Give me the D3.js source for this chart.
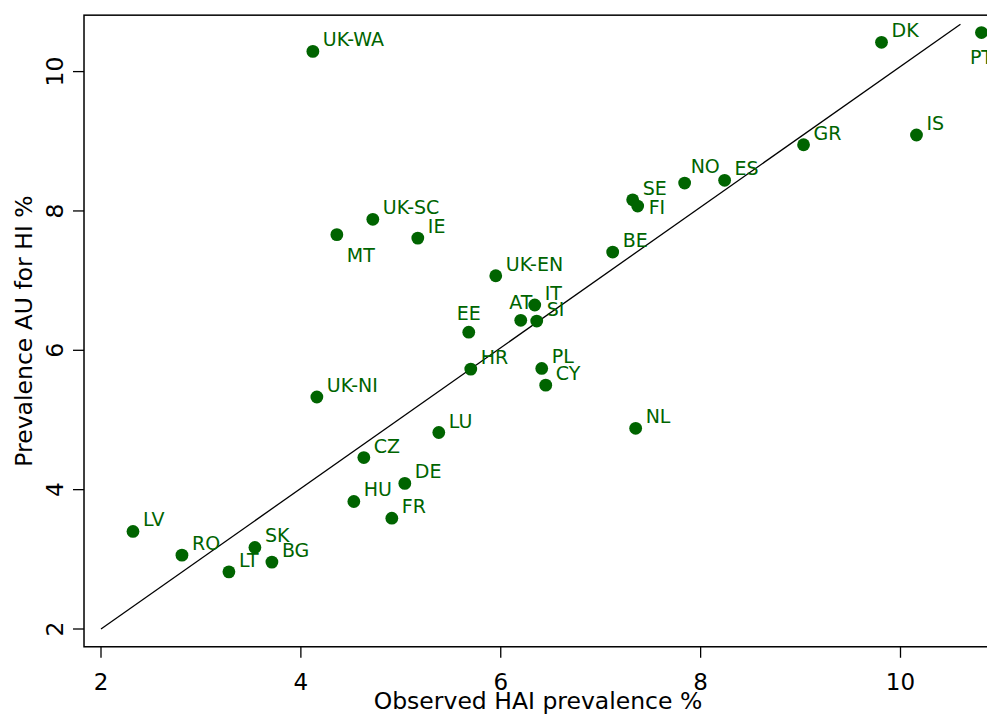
<!DOCTYPE html>
<html>
<head>
<meta charset="utf-8">
<script src="https://cdn.jsdelivr.net/npm/d3@7"></script>
<style>
  html, body { margin: 0; padding: 0; background: #fff; }
  svg { display: block; }
  text { font-family: "DejaVu Sans", Verdana, sans-serif; }
</style>
</head>
<body>
<svg id="chart" width="987" height="715"></svg>
<script>
// ---- data ----
const countries = ["UK-WA","MT","UK-SC","IE","UK-EN","IT","AT","SI","EE","HR","PL","CY","UK-NI","LU","NL","CZ","DE","HU","FR","LV","RO","LT","SK","BG","SE","FI","BE","NO","ES","GR","IS","DK","PT"];
const observed  = [4.12, 4.36, 4.72, 5.17, 5.95, 6.34, 6.20, 6.36, 5.68, 5.70, 6.41, 6.45, 4.16, 5.38, 7.35, 4.63, 5.04, 4.53, 4.91, 2.32, 2.81, 3.28, 3.54, 3.71, 7.32, 7.37, 7.12, 7.84, 8.24, 9.03, 10.16, 9.81, 10.81];
const predicted = [10.29, 7.66, 7.88, 7.61, 7.07, 6.65, 6.43, 6.42, 6.26, 5.73, 5.74, 5.50, 5.33, 4.82, 4.88, 4.46, 4.09, 3.83, 3.59, 3.40, 3.06, 2.82, 3.17, 2.96, 8.16, 8.07, 7.41, 8.40, 8.44, 8.95, 9.09, 10.42, 10.56];
// label clock positions (Stata style)
const labelClock = [2,5,2,2,2,2,12,2,12,2,2,2,2,2,2,2,2,2,2,2,2,2,2,2,2,3,2,1,2,2,2,2,6];
const xTicks = [2, 4, 6, 8, 10];
const yTicks = [2, 4, 6, 8, 10];
const fitX = [2, 10.6];
const fitY = [2, 10.68];
const xTitle = "Observed HAI prevalence %";
const yTitle = "Prevalence AU for HI %";

// ---- layout ----
const svg = d3.select("#chart");
const x = d3.scaleLinear().domain([2, 10]).range([101, 900.5]);
const y = d3.scaleLinear().domain([2, 10]).range([629, 71.6]);
const frame = { x0: 1.83, x1: 11.2, y0: 1.745, y1: 10.81 };
const green = "#006400";

// plot frame
svg.append("rect")
  .attr("x", x(frame.x0)).attr("y", y(frame.y1))
  .attr("width", x(frame.x1) - x(frame.x0))
  .attr("height", y(frame.y0) - y(frame.y1))
  .attr("fill", "none").attr("stroke", "#000").attr("stroke-width", 1.5);

// y axis
const yAxis = svg.append("g").attr("transform", `translate(${x(frame.x0)},0)`);
yAxis.selectAll("line").data(yTicks).join("line")
  .attr("x1", 0).attr("x2", -11)
  .attr("y1", d => y(d)).attr("y2", d => y(d))
  .attr("stroke", "#000").attr("stroke-width", 1.3);
yAxis.selectAll("text").data(yTicks).join("text")
  .attr("transform", d => `translate(-21,${y(d)}) rotate(-90)`)
  .attr("text-anchor", "middle")
  .attr("font-size", 23.5)
  .attr("fill", "#000")
  .text(d => d);

// x axis
const xAxis = svg.append("g").attr("transform", `translate(0,${y(frame.y0)})`);
xAxis.selectAll("line").data(xTicks).join("line")
  .attr("x1", d => x(d)).attr("x2", d => x(d))
  .attr("y1", 0).attr("y2", 11)
  .attr("stroke", "#000").attr("stroke-width", 1.3);
xAxis.selectAll("text").data(xTicks).join("text")
  .attr("x", d => x(d)).attr("y", 43)
  .attr("text-anchor", "middle")
  .attr("font-size", 23)
  .attr("fill", "#000")
  .text(d => d);

// axis titles
svg.append("text")
  .attr("x", 538).attr("y", 709)
  .attr("text-anchor", "middle").attr("font-size", 23.5).attr("fill", "#000")
  .text(xTitle);
svg.append("text")
  .attr("transform", `translate(32,331) rotate(-90)`)
  .attr("text-anchor", "middle").attr("font-size", 23.5).attr("fill", "#000")
  .text(yTitle);

// fit line
svg.append("line")
  .attr("x1", x(fitX[0])).attr("y1", y(fitY[0]))
  .attr("x2", x(fitX[1])).attr("y2", y(fitY[1]))
  .attr("stroke", "#000").attr("stroke-width", 1.3);

// points
const pts = countries.map((c, i) => ({ c, ox: observed[i], py: predicted[i], pos: labelClock[i] }));
svg.append("g").selectAll("circle").data(pts).join("circle")
  .attr("cx", d => x(d.ox)).attr("cy", d => y(d.py))
  .attr("r", 6.4).attr("fill", green);

const off = {
  2:  { dx: 10, dy: -5, anchor: "start" },
  1:  { dx: 6, dy: -10, anchor: "start" },
  3:  { dx: 11, dy: 8, anchor: "start" },
  5:  { dx: 10, dy: 27, anchor: "start" },
  6:  { dx: 0, dy: 31, anchor: "middle" },
  12: { dx: 0, dy: -11.7, anchor: "middle" }
};
svg.append("g").selectAll("text").data(pts).join("text")
  .attr("x", d => x(d.ox) + off[d.pos].dx)
  .attr("y", d => y(d.py) + off[d.pos].dy)
  .attr("text-anchor", d => off[d.pos].anchor)
  .attr("font-size", 19)
  .attr("fill", green)
  .text(d => d.c);
</script>
</body>
</html>
